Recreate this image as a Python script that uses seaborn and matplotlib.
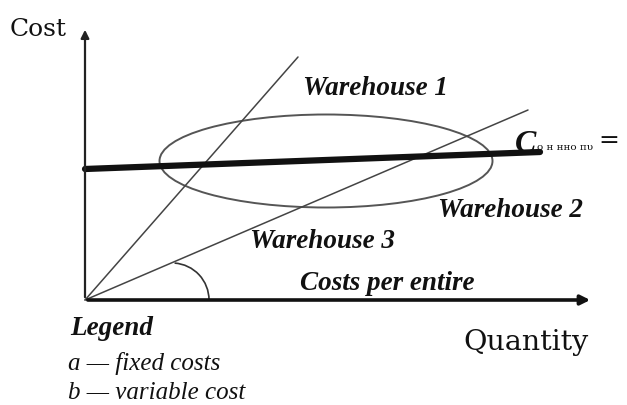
import matplotlib
matplotlib.use("Agg")
import matplotlib.pyplot as plt
from matplotlib.patches import Ellipse, Arc
import seaborn as sns

# Line endpoints in chart units (quantity, cost)
w1_qty = [0, 213]
w1_cost = [0, 243]
w3_qty = [0, 443]
w3_cost = [0, 190]
fixed_qty = [0, 455]
fixed_cost = [131, 148]

# ellipse around the crossing area: center, width, height
ell_center = (241, 139)
ell_size = (333, 93)

# angle arc near origin on the Warehouse 3 line
arc_center = (87, 0)
arc_radius = 37

labels = ["Warehouse 1", "Warehouse 2", "Warehouse 3", "Costs per entire"]
legend_lines = ["a \u2014 fixed costs", "b \u2014 variable cost"]

sns.set_style("white")

fig = plt.figure(figsize=(6.27, 4.05), dpi=100)
ax = fig.add_axes([0, 0, 1, 1])
ax.set_xlim(-85, 542)
ax.set_ylim(-105, 300)
ax.axis("off")

# axes with arrows
ax.annotate("", xy=(0, 273), xytext=(0, 0),
            arrowprops=dict(arrowstyle="-|>", lw=1.6, color="#222", mutation_scale=12))
ax.annotate("", xy=(508, 0), xytext=(0, 0),
            arrowprops=dict(arrowstyle="-|>", lw=2.6, color="#111", mutation_scale=14))

# cost lines
sns.lineplot(x=w1_qty, y=w1_cost, ax=ax, color="#444", linewidth=1.1, sort=False)
sns.lineplot(x=w3_qty, y=w3_cost, ax=ax, color="#444", linewidth=1.1, sort=False)
sns.lineplot(x=fixed_qty, y=fixed_cost, ax=ax, color="#111", linewidth=4.5, sort=False)

ax.add_patch(Ellipse(ell_center, ell_size[0], ell_size[1], fill=False,
                     edgecolor="#555", linewidth=1.4))
ax.add_patch(Arc(arc_center, 2 * arc_radius, 2 * arc_radius, theta1=0, theta2=86,
                 edgecolor="#333", linewidth=1.2))

bi = dict(family="Liberation Serif", fontweight="bold", fontstyle="italic",
          fontsize=19.5, color="#111")
ax.text(218, 205, labels[0], **bi)
ax.text(353, 83, labels[1], **bi)
ax.text(165, 52, labels[2], **bi)
ax.text(215, 10, labels[3], **bi)

# C label
ax.text(430, 148, "C", family="Liberation Serif", fontweight="bold",
        fontstyle="italic", fontsize=23, color="#111", va="baseline")
ax.text(452, 150, "\u043e \u043d \u043d\u043d\u043e \u043f\u03c5", family="DejaVu Serif",
        fontsize=7.5, color="#111", va="baseline")
ax.text(513, 153, "=", family="DejaVu Serif", fontsize=18, color="#111", va="baseline")

# axis titles
ax.text(-75, 264, "Cost", family="DejaVu Serif", fontsize=18, color="#111")
ax.text(378, -50, "Quantity", family="DejaVu Serif", fontsize=20.5, color="#111")

# legend block
ax.text(-15, -35, "Legend", **bi)
ax.text(-17, -70, legend_lines[0], family="Liberation Serif", fontstyle="italic",
        fontsize=18, color="#111")
ax.text(-17, -99, legend_lines[1], family="Liberation Serif", fontstyle="italic",
        fontsize=18, color="#111")

fig.savefig("out.png", dpi=100)
